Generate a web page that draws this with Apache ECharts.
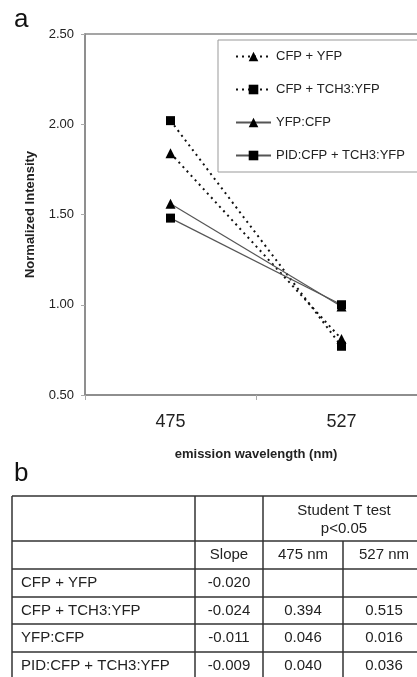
<!DOCTYPE html>
<html><head><meta charset="utf-8">
<script src="https://cdn.jsdelivr.net/npm/echarts@6/dist/echarts.min.js"></script>
<style>html,body{margin:0;padding:0;background:#fff;overflow:hidden;width:417px;height:677px}#c{width:430px;height:677px}</style>
</head><body><div id="c"></div>
<script>
// ---- data ----
const categories = ['475', '527'];
const seriesNames = ['CFP + YFP', 'CFP + TCH3:YFP', 'YFP:CFP', 'PID:CFP + TCH3:YFP'];
const cfpYfp = [1.84, 0.81];
const cfpTch3Yfp = [2.02, 0.77];
const yfpCfp = [1.56, 0.99];
const pidCfpTch3Yfp = [1.48, 1.00];
const yTicks = [0.5, 1.0, 1.5, 2.0, 2.5];

const tableRowLabels = ['CFP + YFP', 'CFP + TCH3:YFP', 'YFP:CFP', 'PID:CFP + TCH3:YFP'];
const slopes = ['-0.020', '-0.024', '-0.011', '-0.009'];
const p475 = ['', '0.394', '0.046', '0.040'];
const p527 = ['', '0.515', '0.016', '0.036'];
const headerTop = ['Student T test\np<0.05'];
const headerSub = ['Slope', '475 nm', '527 nm'];

// ---- table layout ----
const FONT = 'Liberation Sans, Arial, sans-serif';
const colX = [12, 195, 263, 343, 425];
const rowY = [496, 541, 569, 597, 624, 652, 680];
const lineStyle = { stroke: '#333', lineWidth: 1.5 };
const g = [];
function hline(y, x1, x2) { g.push({ type: 'line', shape: { x1, y1: y, x2, y2: y }, style: lineStyle }); }
function vline(x, y1, y2) { g.push({ type: 'line', shape: { x1: x, y1, x2: x, y2 }, style: lineStyle }); }
function txt(s, x, y, align) {
  g.push({ type: 'text', x, y, style: { text: s, font: '15px ' + FONT, fill: '#222', align: align || 'center', verticalAlign: 'middle', lineHeight: 18 } });
}
rowY.forEach(y => hline(y, colX[0], colX[4]));
vline(colX[0], rowY[0], rowY[6]);
vline(colX[1], rowY[0], rowY[6]);
vline(colX[2], rowY[0], rowY[6]);
vline(colX[3], rowY[1], rowY[6]);
txt(headerTop[0], (colX[2] + colX[4]) / 2, (rowY[0] + rowY[1]) / 2 + 1);
headerSub.forEach((s, i) => txt(s, (colX[i + 1] + colX[i + 2]) / 2, (rowY[1] + rowY[2]) / 2));
tableRowLabels.forEach((s, r) => {
  const cy = (rowY[r + 2] + rowY[r + 3]) / 2;
  txt(s, 21, cy, 'left');
  txt(slopes[r], (colX[1] + colX[2]) / 2, cy);
  txt(p475[r], (colX[2] + colX[3]) / 2, cy);
  txt(p527[r], (colX[3] + colX[4]) / 2, cy);
});
g.push({ type: 'text', x: 14, y: 20, style: { text: 'a', font: '26px ' + FONT, fill: '#111', verticalAlign: 'middle' } });
g.push({ type: 'text', x: 14, y: 474, style: { text: 'b', font: '26px ' + FONT, fill: '#111', verticalAlign: 'middle' } });

const chart = echarts.init(document.getElementById('c'));
const dotted = { color: '#111', width: 2, type: [2, 4] };
const solid = { color: '#555', width: 1.2, type: 'solid' };
const mk = (name, data, sym, ls, size) => ({
  name, type: 'line', data, symbol: sym, symbolSize: size, lineStyle: ls,
  itemStyle: { color: '#000' }, z: 3
});
chart.setOption({
  animation: false,
  textStyle: { fontFamily: FONT },
  grid: { left: 85, top: 34, right: 3, bottom: 282, show: true, borderColor: '#888', borderWidth: 1.5 },
  legend: {
    orient: 'vertical', left: 218, top: 40, itemWidth: 35, itemHeight: 12, itemGap: 20,
    padding: [10, 40, 10, 17], borderColor: '#999', borderWidth: 1, backgroundColor: '#fff',
    textStyle: { fontSize: 13, color: '#222', fontFamily: FONT },
    data: seriesNames
  },
  xAxis: {
    type: 'category', data: categories, boundaryGap: true,
    axisLine: { lineStyle: { color: '#888', width: 1.5 } },
    axisTick: { show: true, length: 5, lineStyle: { color: '#aaa' } },
    axisLabel: { fontSize: 18, color: '#222', margin: 18 },
    name: 'emission wavelength (nm)', nameLocation: 'middle', nameGap: 53,
    nameTextStyle: { fontSize: 13, fontWeight: 'bold', color: '#222' }
  },
  yAxis: {
    type: 'value', min: 0.5, max: 2.5, interval: 0.5,
    splitLine: { show: false },
    axisLine: { show: true, lineStyle: { color: '#888', width: 1.5 } },
    axisTick: { show: true, length: 4, lineStyle: { color: '#aaa' } },
    axisLabel: { fontSize: 13, color: '#222', margin: 11, formatter: v => v.toFixed(2) },
    name: 'Normalized Intensity', nameLocation: 'middle', nameGap: 48,
    nameTextStyle: { fontSize: 13, fontWeight: 'bold', color: '#222' }
  },
  series: [
    mk(seriesNames[0], cfpYfp, 'triangle', dotted, 10),
    mk(seriesNames[1], cfpTch3Yfp, 'rect', dotted, 9),
    mk(seriesNames[2], yfpCfp, 'triangle', solid, 10),
    mk(seriesNames[3], pidCfpTch3Yfp, 'rect', solid, 9)
  ],
  graphic: g
});
</script></body></html>
